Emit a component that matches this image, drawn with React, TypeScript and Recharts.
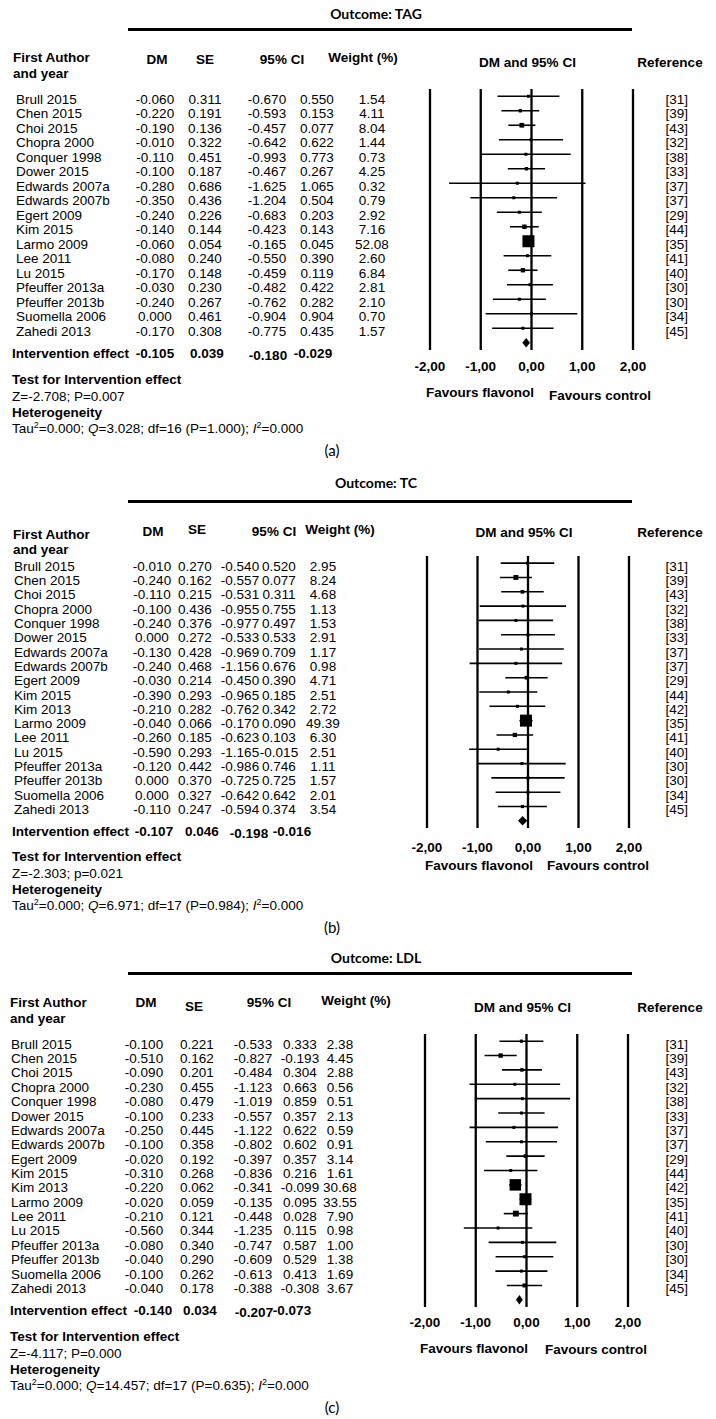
import React from "react"
import { ScatterChart, Scatter, XAxis, YAxis, ReferenceLine, ReferenceArea } from "recharts"

const FONT = "'Liberation Sans', Arial, sans-serif"
const TITLE_FONT = "Lato, 'Liberation Sans', sans-serif"
const FS = 13.5

const xTicks = [-2, -1, 0, 1, 2]

// ---- Outcome: TAG ----
const tagAuthors = ["Brull 2015", "Chen 2015", "Choi 2015", "Chopra 2000", "Conquer 1998", "Dower 2015", "Edwards 2007a", "Edwards 2007b", "Egert 2009", "Kim 2015", "Larmo 2009", "Lee 2011", "Lu 2015", "Pfeuffer 2013a", "Pfeuffer 2013b", "Suomella 2006", "Zahedi 2013"]
const tagDM = [-0.06, -0.22, -0.19, -0.01, -0.11, -0.1, -0.28, -0.35, -0.24, -0.14, -0.06, -0.08, -0.17, -0.03, -0.24, 0.0, -0.17]
const tagSE = [0.311, 0.191, 0.136, 0.322, 0.451, 0.187, 0.686, 0.436, 0.226, 0.144, 0.054, 0.24, 0.148, 0.23, 0.267, 0.461, 0.308]
const tagLow = [-0.67, -0.593, -0.457, -0.642, -0.993, -0.467, -1.625, -1.204, -0.683, -0.423, -0.165, -0.55, -0.459, -0.482, -0.762, -0.904, -0.775]
const tagHigh = [0.55, 0.153, 0.077, 0.622, 0.773, 0.267, 1.065, 0.504, 0.203, 0.143, 0.045, 0.39, 0.119, 0.422, 0.282, 0.904, 0.435]
const tagWeight = [1.54, 4.11, 8.04, 1.44, 0.73, 4.25, 0.32, 0.79, 2.92, 7.16, 52.08, 2.6, 6.84, 2.81, 2.1, 0.7, 1.57]
const tagRefs = ["[31]", "[39]", "[43]", "[32]", "[38]", "[33]", "[37]", "[37]", "[29]", "[44]", "[35]", "[41]", "[40]", "[30]", "[30]", "[34]", "[45]"]
const tagSummary = [-0.105, 0.039, -0.18, -0.029]

// ---- Outcome: TC ----
const tcAuthors = ["Brull 2015", "Chen 2015", "Choi 2015", "Chopra 2000", "Conquer 1998", "Dower 2015", "Edwards 2007a", "Edwards 2007b", "Egert 2009", "Kim 2015", "Kim 2013", "Larmo 2009", "Lee 2011", "Lu 2015", "Pfeuffer 2013a", "Pfeuffer 2013b", "Suomella 2006", "Zahedi 2013"]
const tcDM = [-0.01, -0.24, -0.11, -0.1, -0.24, 0.0, -0.13, -0.24, -0.03, -0.39, -0.21, -0.04, -0.26, -0.59, -0.12, 0.0, 0.0, -0.11]
const tcSE = [0.27, 0.162, 0.215, 0.436, 0.376, 0.272, 0.428, 0.468, 0.214, 0.293, 0.282, 0.066, 0.185, 0.293, 0.442, 0.37, 0.327, 0.247]
const tcLow = [-0.54, -0.557, -0.531, -0.955, -0.977, -0.533, -0.969, -1.156, -0.45, -0.965, -0.762, -0.17, -0.623, -1.165, -0.986, -0.725, -0.642, -0.594]
const tcHigh = [0.52, 0.077, 0.311, 0.755, 0.497, 0.533, 0.709, 0.676, 0.39, 0.185, 0.342, 0.09, 0.103, -0.015, 0.746, 0.725, 0.642, 0.374]
const tcWeight = [2.95, 8.24, 4.68, 1.13, 1.53, 2.91, 1.17, 0.98, 4.71, 2.51, 2.72, 49.39, 6.3, 2.51, 1.11, 1.57, 2.01, 3.54]
const tcRefs = ["[31]", "[39]", "[43]", "[32]", "[38]", "[33]", "[37]", "[37]", "[29]", "[44]", "[42]", "[35]", "[41]", "[40]", "[30]", "[30]", "[34]", "[45]"]
const tcSummary = [-0.107, 0.046, -0.198, -0.016]

// ---- Outcome: LDL ----
const ldlAuthors = tcAuthors
const ldlDM = [-0.1, -0.51, -0.09, -0.23, -0.08, -0.1, -0.25, -0.1, -0.02, -0.31, -0.22, -0.02, -0.21, -0.56, -0.08, -0.04, -0.1, -0.04]
const ldlSE = [0.221, 0.162, 0.201, 0.455, 0.479, 0.233, 0.445, 0.358, 0.192, 0.268, 0.062, 0.059, 0.121, 0.344, 0.34, 0.29, 0.262, 0.178]
const ldlLow = [-0.533, -0.827, -0.484, -1.123, -1.019, -0.557, -1.122, -0.802, -0.397, -0.836, -0.341, -0.135, -0.448, -1.235, -0.747, -0.609, -0.613, -0.388]
const ldlHigh = [0.333, -0.193, 0.304, 0.663, 0.859, 0.357, 0.622, 0.602, 0.357, 0.216, -0.099, 0.095, 0.028, 0.115, 0.587, 0.529, 0.413, 0.308]
const ldlHighPrinted: Record<number, string> = { 17: "-0.308" } // as printed in the source table
const ldlWeight = [2.38, 4.45, 2.88, 0.56, 0.51, 2.13, 0.59, 0.91, 3.14, 1.61, 30.68, 33.55, 7.9, 0.98, 1.0, 1.38, 1.69, 3.67]
const ldlRefs = tcRefs
const ldlSummary = [-0.14, 0.034, -0.207, -0.073]

type Layout = {
  title: string
  titleY: number
  ruleY: number
  head: { faX: number; faY: number; yearY: number; colY: number; seY: number; dm: number; se: number; ci: number; w: number; rightY: number }
  cols: { author: number; dm: number; se: number; low: number; high: number; weight: number; ref: number }
  sumCols: { dm: number; se: number; low: number; high: number }
  plot: { top: number; bottom: number; left: number; right: number }
  tickY: number
  fav: { lx: number; ly: number; rx: number; ry: number }
  notesX: number
  notesY: number[]
  z: string
  q: string
  df: string
  p: string
  label: string
  labelY: number
}

type PanelData = {
  authors: string[]
  dm: number[]
  se: number[]
  low: number[]
  high: number[]
  highPrinted?: Record<number, string>
  weight: number[]
  refs: string[]
  summary: number[]
}

const layoutA: Layout = {
  title: "Outcome: TAG",
  titleY: 14,
  ruleY: 28,
  head: { faX: 13, faY: 58, yearY: 74, colY: 60, seY: 60, dm: 157, se: 205, ci: 282, w: 363, rightY: 63 },
  cols: { author: 16, dm: 155, se: 205, low: 267, high: 317, weight: 372, ref: 688 },
  sumCols: { dm: 155, se: 207, low: 268, high: 313 },
  plot: { top: 89, bottom: 350, left: 430, right: 633 },
  tickY: 366,
  fav: { lx: 480, ly: 393, rx: 600, ry: 396 },
  notesX: 12,
  notesY: [380, 397, 413, 429],
  z: "Z=-2.708; P=0.007",
  q: "3.028",
  df: "16",
  p: "1.000",
  label: "(a)",
  labelY: 450,
}

const layoutB: Layout = {
  title: "Outcome: TC",
  titleY: 483,
  ruleY: 500,
  head: { faX: 13, faY: 535, yearY: 550, colY: 532, seY: 530, dm: 153, se: 197, ci: 274, w: 340, rightY: 533 },
  cols: { author: 14, dm: 152, se: 195, low: 240, high: 279, weight: 323, ref: 688 },
  sumCols: { dm: 154, se: 202, low: 249, high: 292 },
  plot: { top: 556, bottom: 828, left: 427, right: 629 },
  tickY: 847,
  fav: { lx: 479, ly: 866, rx: 598, ry: 866 },
  notesX: 12,
  notesY: [857, 874, 890, 906],
  z: "Z=-2.303; p=0.021",
  q: "6.971",
  df: "17",
  p: "0.984",
  label: "(b)",
  labelY: 927,
}

const layoutC: Layout = {
  title: "Outcome: LDL",
  titleY: 958,
  ruleY: 972,
  head: { faX: 10, faY: 1003, yearY: 1019, colY: 1003, seY: 1007, dm: 146, se: 194, ci: 269, w: 356, rightY: 1008 },
  cols: { author: 11, dm: 144, se: 197, low: 253, high: 300, weight: 340, ref: 688 },
  sumCols: { dm: 153, se: 200, low: 254, high: 292 },
  plot: { top: 1034, bottom: 1307, left: 425, right: 628 },
  tickY: 1322,
  fav: { lx: 474, ly: 1349, rx: 596, ry: 1350 },
  notesX: 10,
  notesY: [1337, 1354, 1370, 1386],
  z: "Z=-4.117; P=0.000",
  q: "14.457",
  df: "17",
  p: "0.635",
  label: "(c)",
  labelY: 1407,
}

const dataA: PanelData = { authors: tagAuthors, dm: tagDM, se: tagSE, low: tagLow, high: tagHigh, weight: tagWeight, refs: tagRefs, summary: tagSummary }
const dataB: PanelData = { authors: tcAuthors, dm: tcDM, se: tcSE, low: tcLow, high: tcHigh, weight: tcWeight, refs: tcRefs, summary: tcSummary }
const dataC: PanelData = { authors: ldlAuthors, dm: ldlDM, se: ldlSE, low: ldlLow, high: ldlHigh, highPrinted: ldlHighPrinted, weight: ldlWeight, refs: ldlRefs, summary: ldlSummary }

const f3 = (v: number) => v.toFixed(3)

function Txt({ x, y, children, bold, size = FS, center, font = FONT }: any) {
  return (
    <div
      style={{
        position: "absolute",
        left: x,
        top: y,
        transform: center ? "translate(-50%, -50%)" : "translateY(-50%)",
        fontFamily: font,
        fontSize: size,
        fontWeight: bold ? "bold" : "normal",
        lineHeight: 1,
        whiteSpace: "nowrap",
        color: "#000",
      }}
    >
      {children}
    </div>
  )
}

function ForestPanel({ L, d }: { L: Layout; d: PanelData }) {
  const n = d.authors.length
  const rows = d.authors.map((a, i) => ({ row: i, dm: d.dm[i], low: d.low[i], high: d.high[i], weight: d.weight[i] }))
  const wMax = Math.max(...d.weight)
  const marginTop = 9
  const chartTop = L.plot.top - marginTop
  const plotH = L.plot.bottom - L.plot.top
  const chartH = marginTop + plotH + 30
  const [sDm, sSe, sLow, sHigh] = d.summary

  const Square = (props: any) => {
    const { cx, cy, payload } = props
    const s = Math.max(3, 12 * Math.sqrt(payload.weight / wMax))
    return <rect x={cx - s / 2} y={cy - s / 2} width={s} height={s} fill="#000" />
  }

  const Diamond = (props: any) => {
    const { x, y, width, height } = props
    const mx = x + (width * (sDm - sLow)) / (sHigh - sLow)
    return (
      <polygon
        points={`${x},${y + height / 2} ${mx},${y} ${x + width},${y + height / 2} ${mx},${y + height}`}
        fill="#000"
      />
    )
  }

  const RowTick = (props: any) => {
    const { y, payload } = props
    const i = payload.value
    const t = { fontFamily: FONT, fontSize: FS, fill: "#000", dominantBaseline: "central" as const }
    if (i === n) {
      const ty = y + 11
      return (
        <g>
          <text {...t} x={L.notesX} y={ty} fontWeight="bold">Intervention effect</text>
          <text {...t} x={L.sumCols.dm} y={ty} textAnchor="middle" fontWeight="bold">{f3(sDm)}</text>
          <text {...t} x={L.sumCols.se} y={ty} textAnchor="middle" fontWeight="bold">{f3(sSe)}</text>
          <text {...t} x={L.sumCols.low} y={ty + 2} textAnchor="middle" fontWeight="bold">{f3(sLow)}</text>
          <text {...t} x={L.sumCols.high} y={ty} textAnchor="middle" fontWeight="bold">{f3(sHigh)}</text>
        </g>
      )
    }
    const ty = y + 3
    const hi = d.highPrinted && d.highPrinted[i] ? d.highPrinted[i] : f3(d.high[i])
    return (
      <g>
        <text {...t} x={L.cols.author} y={ty}>{d.authors[i]}</text>
        <text {...t} x={L.cols.dm} y={ty} textAnchor="middle">{f3(d.dm[i])}</text>
        <text {...t} x={L.cols.se} y={ty} textAnchor="middle">{f3(d.se[i])}</text>
        <text {...t} x={L.cols.low} y={ty} textAnchor="middle">{f3(d.low[i])}</text>
        <text {...t} x={L.cols.high} y={ty} textAnchor="middle">{hi}</text>
        <text {...t} x={L.cols.weight} y={ty} textAnchor="middle">{d.weight[i].toFixed(2)}</text>
        <text {...t} x={L.cols.ref} y={ty} textAnchor="end">{d.refs[i]}</text>
      </g>
    )
  }

  const XTick = (props: any) => {
    const { x, payload } = props
    return (
      <text x={x} y={L.tickY - chartTop} textAnchor="middle" dominantBaseline="central" fontFamily={FONT} fontSize={FS} fontWeight="bold" fill="#000">
        {payload.value.toFixed(2).replace(".", ",")}
      </text>
    )
  }

  const rowTicks = Array.from({ length: n + 1 }, (_, i) => i)
  const sup = { fontSize: 9, position: "relative" as const, top: -5 }

  return (
    <>
      <Txt x={376} y={L.titleY} center bold size={14} font={TITLE_FONT}>{L.title}</Txt>
      <div style={{ position: "absolute", left: 128, top: L.ruleY, width: 504, height: 3, background: "#000" }} />
      <Txt x={L.head.faX} y={L.head.faY} bold>First Author</Txt>
      <Txt x={L.head.faX} y={L.head.yearY} bold>and year</Txt>
      <Txt x={L.head.dm} y={L.head.colY} center bold>DM</Txt>
      <Txt x={L.head.se} y={L.head.seY} center bold>SE</Txt>
      <Txt x={L.head.ci} y={L.head.colY} center bold>95% CI</Txt>
      <Txt x={L.head.w} y={L.head.colY - 2} center bold>Weight (%)</Txt>
      <Txt x={(L.plot.left + L.plot.right) / 2 - 4} y={L.head.rightY} center bold>DM and 95% CI</Txt>
      <Txt x={670} y={L.head.rightY} center bold>Reference</Txt>

      <div style={{ position: "absolute", left: 0, top: chartTop }}>
        <ScatterChart width={716} height={chartH} margin={{ top: marginTop, right: 716 - L.plot.right, bottom: 0, left: 0 }}>
          <XAxis
            type="number"
            dataKey="dm"
            domain={[-2, 2]}
            ticks={xTicks}
            interval={0}
            axisLine={false}
            tickLine={false}
            height={30}
            tick={XTick}
          />
          <YAxis
            type="number"
            dataKey="row"
            domain={[-0.5, n + 0.5]}
            reversed
            ticks={rowTicks}
            interval={0}
            axisLine={false}
            tickLine={false}
            width={L.plot.left}
            tick={RowTick}
          />
          {xTicks.map((v) => (
            <ReferenceLine key={"v" + v} x={v} stroke="#000" strokeWidth={2.3} />
          ))}
          {rows.map((r) => (
            <ReferenceLine
              key={"ci" + r.row}
              segment={[
                { x: r.low, y: r.row },
                { x: r.high, y: r.row },
              ]}
              stroke="#000"
              strokeWidth={1.6}
              ifOverflow="visible"
            />
          ))}
          <ReferenceArea x1={sLow} x2={sHigh} y1={n - 0.33} y2={n + 0.33} shape={Diamond} ifOverflow="visible" />
          <Scatter data={rows} shape={Square} isAnimationActive={false} />
        </ScatterChart>
      </div>

      <Txt x={L.fav.lx} y={L.fav.ly} center bold>Favours flavonol</Txt>
      <Txt x={L.fav.rx} y={L.fav.ry} center bold>Favours control</Txt>

      <Txt x={L.notesX} y={L.notesY[0]} bold>Test for Intervention effect</Txt>
      <Txt x={L.notesX} y={L.notesY[1]}>{L.z}</Txt>
      <Txt x={L.notesX} y={L.notesY[2]} bold>Heterogeneity</Txt>
      <Txt x={L.notesX} y={L.notesY[3]}>
        Tau<span style={sup}>2</span>=0.000; <i>Q</i>={L.q}; df={L.df} (P={L.p}); <i>I</i>
        <span style={sup}>2</span>=0.000
      </Txt>
      <Txt x={332} y={L.labelY} center size={15} font={TITLE_FONT}>{L.label}</Txt>
    </>
  )
}

export default function App() {
  return (
    <div style={{ position: "absolute", left: 0, top: 0, width: 716, height: 1419, background: "#fff", overflow: "hidden" }}>
      <ForestPanel L={layoutA} d={dataA} />
      <ForestPanel L={layoutB} d={dataB} />
      <ForestPanel L={layoutC} d={dataC} />
    </div>
  )
}
